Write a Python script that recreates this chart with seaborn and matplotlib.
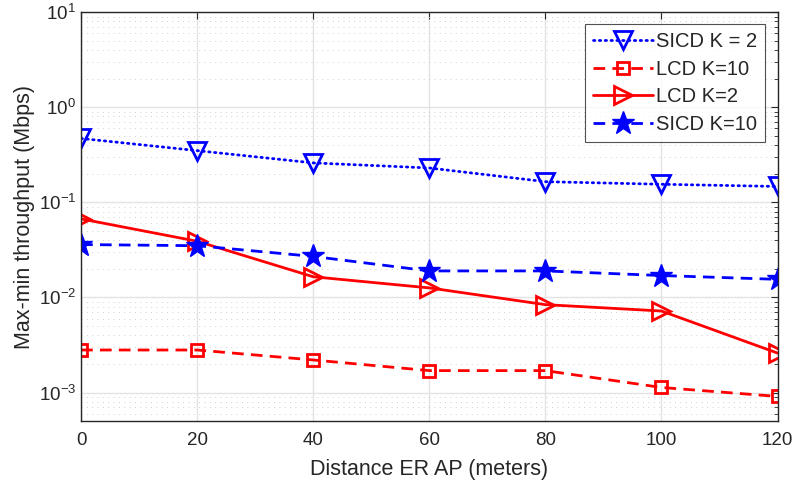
import numpy as np
import pandas as pd
import matplotlib
matplotlib.use("Agg")
import matplotlib.pyplot as plt
import seaborn as sns
from matplotlib.ticker import LogLocator, NullFormatter, FixedLocator

# Distances between the ER and the AP (meters)
distance = [0, 20, 40, 60, 80, 100, 120]

# Max-min throughput (Mbps) per scheme
sicd_k2 = [0.47, 0.35, 0.26, 0.23, 0.165, 0.155, 0.147]
lcd_k10 = [0.0028, 0.0028, 0.0022, 0.0017, 0.0017, 0.00113, 0.00091]
lcd_k2 = [0.067, 0.039, 0.0165, 0.0126, 0.0084, 0.0072, 0.0026]
sicd_k10 = [0.036, 0.035, 0.027, 0.019, 0.019, 0.017, 0.0155]

labels = ["SICD K = 2", "LCD K=10", "LCD K=2", "SICD K=10"]
x_ticks = [0, 20, 40, 60, 80, 100, 120]

sns.set_theme(style="white")
plt.rcParams["font.family"] = ["Liberation Sans", "DejaVu Sans"]
plt.rcParams["mathtext.fontset"] = "custom"
plt.rcParams["mathtext.rm"] = "Liberation Sans"
plt.rcParams["mathtext.it"] = "Liberation Sans:italic"

fig = plt.figure(figsize=(7.95, 4.88), dpi=100)
ax = fig.add_axes([0.102, 0.137, 0.876, 0.838])

frames = []
for name, vals in zip(labels, [sicd_k2, lcd_k10, lcd_k2, sicd_k10]):
    frames.append(pd.DataFrame({"distance": distance, "throughput": vals, "scheme": name}))
df = pd.concat(frames, ignore_index=True)

BLUE = "#0000ff"
RED = "#ff0000"
dash = (0, (4.2, 2.6))
styles = {
    "SICD K = 2": dict(color=BLUE, linestyle=(0, (0.5, 1.6)), dash_capstyle="round",
                       marker="v", markersize=13.5, markerfacecolor="none",
                       markeredgecolor=BLUE, markeredgewidth=2),
    "LCD K=10": dict(color=RED, linestyle=dash, marker="s", markersize=9,
                     markerfacecolor="none", markeredgecolor=RED, markeredgewidth=2),
    "LCD K=2": dict(color=RED, linestyle="-", marker=">", markersize=13.5,
                    markerfacecolor="none", markeredgecolor=RED, markeredgewidth=2),
    "SICD K=10": dict(color=BLUE, linestyle=dash, marker="*", markersize=17,
                      markerfacecolor=BLUE, markeredgecolor=BLUE, markeredgewidth=1),
}

for name in labels:
    st = styles[name]
    sub = df[df["scheme"] == name]
    sns.lineplot(data=sub, x="distance", y="throughput", ax=ax, label=name,
                 linewidth=2, estimator=None, sort=False, **st)

ax.set_yscale("log")
ax.set_xlim(0, 120)
ax.set_ylim(5e-4, 10)
ax.xaxis.set_major_locator(FixedLocator(x_ticks))
ax.yaxis.set_major_locator(LogLocator(base=10, numticks=10))
ax.yaxis.set_minor_locator(LogLocator(base=10, subs=np.arange(2, 10), numticks=20))
ax.yaxis.set_minor_formatter(NullFormatter())

ax.grid(True, which="major", color="#e3e3e3", linewidth=1.0, linestyle="-")
ax.grid(True, which="minor", axis="y", color="#cfcfcf", linewidth=0.7, linestyle=(0, (1, 4.5)))
ax.set_axisbelow(True)

for sp in ax.spines.values():
    sp.set_color("#262626")
    sp.set_linewidth(1.0)
    sp.set_visible(True)

ax.tick_params(which="both", direction="in", top=True, right=True, colors="#262626",
               labelsize=13.5, labelcolor="#262626")
ax.tick_params(which="major", length=5, width=0.8)
ax.tick_params(which="minor", length=3, width=0.6)
ax.tick_params(axis="x", pad=8)

ax.set_xlabel("Distance ER AP (meters)", fontsize=15.5, color="#262626", labelpad=7)
ax.set_ylabel("Max-min throughput (Mbps)", fontsize=15.5, color="#262626", labelpad=3)

leg = ax.legend(loc="upper right", fontsize=14.5, frameon=True, fancybox=False,
                edgecolor="#262626", handlelength=3.0, handletextpad=0.15,
                borderpad=0.4, labelspacing=0.42, borderaxespad=0.6)
leg.get_frame().set_linewidth(0.8)

fig.savefig("out.png", dpi=100, facecolor="white")
